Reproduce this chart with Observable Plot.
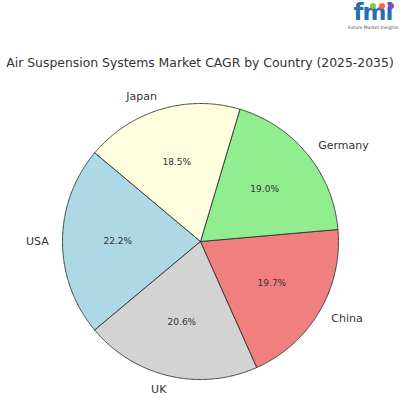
<!DOCTYPE html>
<html>
<head>
<meta charset="utf-8">
<script src="https://cdn.jsdelivr.net/npm/d3@7"></script>
<script src="https://cdn.jsdelivr.net/npm/@observablehq/plot@0.6"></script>
<style>
  body { margin: 0; background: #fff; font-family: "DejaVu Sans", sans-serif; }
  #wrap { position: relative; width: 400px; height: 400px; overflow: hidden; }
  #header { position: relative; width: 400px; height: 90px; }
  #title { position: absolute; left: 0; width: 400px; top: 55px; text-align: center; font-size: 12.4px; color: #333; white-space: nowrap; }
  #logo { position: absolute; right: 2px; top: 0px; width: 50px; height: 31px; }
  #logo .fmi { position: absolute; left: 0; top: 0px; width: 50px; height: 24px; text-align: center; font-family: "DejaVu Sans", sans-serif; font-weight: bold; font-size: 23px; color: #2a6db5; line-height: 24px; letter-spacing: -1px; }
  #logo .sub { position: absolute; left: 0; top: 25px; width: 50px; text-align: center; font-size: 4.5px; color: #555; line-height: 5px; white-space: nowrap; }
  #logo .dots { position: absolute; top: 1px; left: 22px; line-height: 6px; }
  #logo .dots span { display: inline-block; width: 6px; height: 6px; border-radius: 3px; margin-right: 3px; }
</style>
</head>
<body>
<div id="wrap">
  <div id="header">
    <div id="logo">
      <div class="fmi">fmi</div>
      <div class="dots"><span style="background:#8cc63f"></span><span style="background:#f26c4f"></span><span style="background:#8e44ad"></span></div>
      <div class="sub">Future Market Insights</div>
    </div>
    <div id="title">Air Suspension Systems Market CAGR by Country (2025-2035)</div>
  </div>
  <div id="chart"></div>
</div>
<script>
const countries = ["USA", "UK", "China", "Germany", "Japan"];
const shares = [22.2, 20.6, 19.7, 19.0, 18.5];
const colors = ["#add8e6", "#d3d3d3", "#f08080", "#90ee90", "#ffffe0"];
const startAngle = 140;

const R = 138;
const total = d3.sum(shares);
const rad = Math.PI / 180;
let cum = 0;
const slices = countries.map((c, i) => {
  const a0 = startAngle + cum / total * 360;
  cum += shares[i];
  const a1 = startAngle + cum / total * 360;
  return {country: c, value: shares[i], color: colors[i], a0, a1, mid: (a0 + a1) / 2};
});

const outline = [];
for (const s of slices) {
  outline.push({country: s.country, color: s.color, x: 0, y: 0});
  const n = Math.ceil(s.a1 - s.a0) * 2;
  for (let k = 0; k <= n; k++) {
    const a = (s.a0 + (s.a1 - s.a0) * k / n) * rad;
    outline.push({country: s.country, color: s.color, x: R * Math.cos(a), y: R * Math.sin(a)});
  }
  outline.push({country: s.country, color: s.color, x: 0, y: 0});
}

const labels = slices.map(s => ({
  country: s.country,
  x: 1.1 * R * Math.cos(s.mid * rad),
  y: 1.1 * R * Math.sin(s.mid * rad)
}));
const pcts = slices.map(s => ({
  text: s.value.toFixed(1) + "%",
  x: 0.6 * R * Math.cos(s.mid * rad),
  y: 0.6 * R * Math.sin(s.mid * rad)
}));

const H = 310;
const cy = 151;
const chart = Plot.plot({
  width: 400,
  height: H,
  margin: 0,
  x: {domain: [-200, 200], range: [0, 400], axis: null},
  y: {domain: [cy - H, cy], range: [H, 0], axis: null},
  color: {type: "identity"},
  style: {fontFamily: "DejaVu Sans, sans-serif", background: "transparent"},
  marks: [
    Plot.line(outline, {x: "x", y: "y", z: "country", fill: "color", stroke: "#333", strokeWidth: 0.9, strokeLinejoin: "round", curve: "linear"}),
    Plot.text(labels.filter(d => d.x > 0), {x: "x", y: "y", text: "country", textAnchor: "start", fontSize: 11, fill: "#333"}),
    Plot.text(labels.filter(d => d.x <= 0), {x: "x", y: "y", text: "country", textAnchor: "end", fontSize: 11, fill: "#333"}),
    Plot.text(pcts, {x: "x", y: "y", text: "text", fontSize: 9, fill: "#333"})
  ]
});
document.getElementById("chart").appendChild(chart);
</script>
</body>
</html>
